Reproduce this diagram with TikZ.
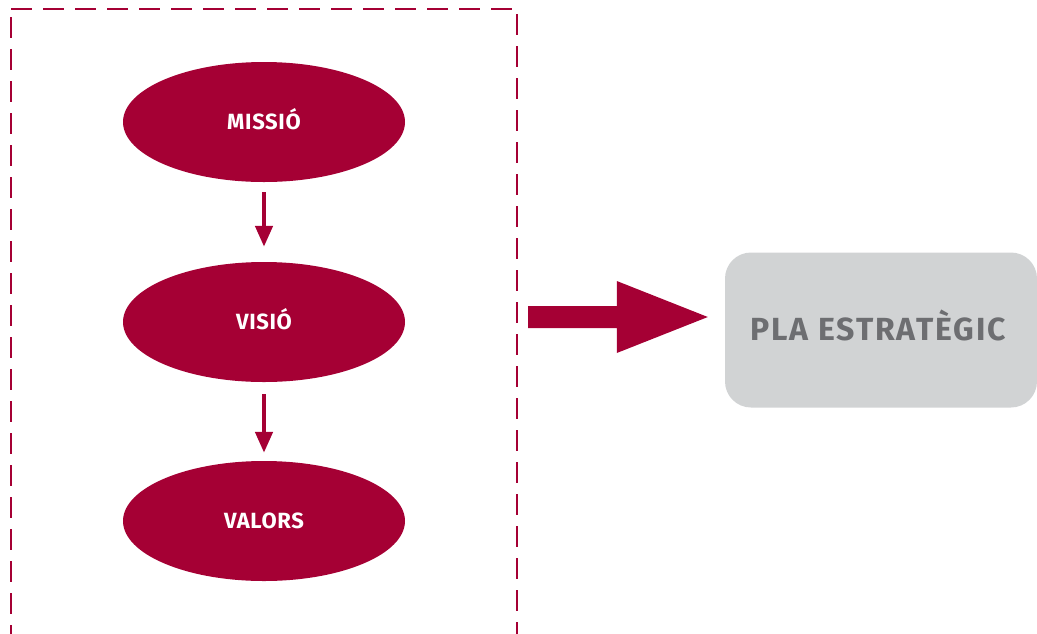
\documentclass[tikz,border=0pt]{standalone}
\usepackage{fontspec}
\setmainfont{Fira Sans}
\newfontfamily\ideafont{Fira Sans}[LetterSpace=3]
\newfontfamily\targetfont{Fira Sans}[LetterSpace=6]
\usetikzlibrary{shapes.geometric,arrows.meta,calc}
\definecolor{brand}{HTML}{A50034}
\definecolor{panel}{HTML}{D1D3D4}
\definecolor{panelText}{HTML}{6D6E71}
\tikzset{
  idea/.style={ellipse, fill=brand, minimum width=282pt, minimum height=120pt,
    inner sep=0pt, text height=15pt, text depth=0pt, text=white,
    font=\ideafont\fontsize{22}{26}\selectfont\bfseries},
  flow/.style={brand, line width=4.5pt, -{Triangle[width=17pt,length=21pt]}},
  frame/.style={brand, line width=2.3pt, dash pattern=on 21pt off 11pt},
  target/.style={rounded corners=26pt, fill=panel, minimum width=312pt,
    minimum height=155pt, inner sep=0pt, text height=22pt, text depth=0pt,
    text=panelText, font=\targetfont\fontsize{32}{38}\selectfont\bfseries}
}
\begin{document}
\begin{tikzpicture}[x=1pt, y=-1pt]
  \useasboundingbox (0,0) rectangle (1037,633);
  \clip (0,0) rectangle (1037,633);

  % dashed frame around the three statements
  \draw[frame] (11,9) -- (517,9);
  \draw[frame] (11,17) -- (11,700);
  \draw[frame] (517,14) -- (517,700);

  % mission, vision and values
  \node[idea] (m)  at (264,122) {MISSIÓ};
  \node[idea] (v)  at (264,322) {VISIÓ};
  \node[idea] (va) at (264,521) {VALORS};

  \draw[flow, shorten <=10pt, shorten >=15pt] (m.south) -- (v.north);
  \draw[flow, shorten <=12pt, shorten >=8pt] (v.south) -- (va.north);

  % strategic plan
  \node[target] (pla) at (881,330) {};
  \node[text height=22pt, text depth=0pt, inner sep=0pt, text=panelText,
    font=\targetfont\fontsize{32}{38}\selectfont\bfseries] (plat) at (878,329) {PLA ESTRATÈGIC};

  % broad arrow from the frame to the plan
  \coordinate (s) at (528,317);
  \coordinate (tip) at ($(pla.west |- s)+(-17,0)$);
  \fill[brand] ($(s)+(0,-11)$) -- ($(tip)+(-91,-11)$) -- ($(tip)+(-91,-36)$)
    -- (tip) -- ($(tip)+(-91,36)$) -- ($(tip)+(-91,11)$) -- ($(s)+(0,11)$) -- cycle;
\end{tikzpicture}
\end{document}
